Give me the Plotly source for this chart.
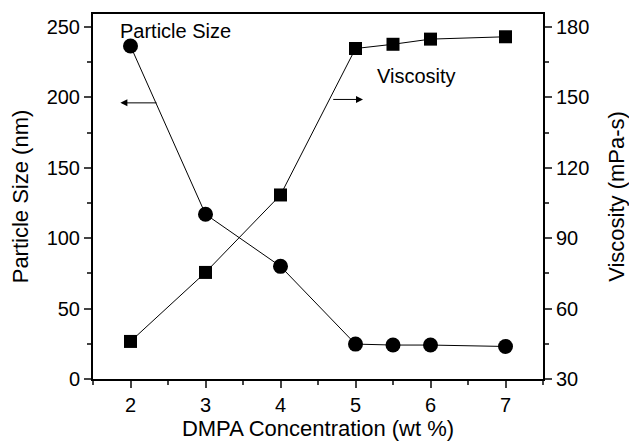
import plotly.graph_objects as go

conc = [2, 3, 4, 5, 5.5, 6, 7]
particle_size = [236.5, 117, 80, 24.8, 24.1, 24.1, 23.1]
viscosity = [46, 75.4, 108.4, 170.8, 172.6, 174.8, 175.8]

FONT = "Liberation Sans, Arial, sans-serif"

fig = go.Figure()
fig.add_trace(go.Scatter(x=conc, y=particle_size, mode="lines+markers",
                         line=dict(color="black", width=1),
                         marker=dict(symbol="circle", size=15, color="black"),
                         showlegend=False))
fig.add_trace(go.Scatter(x=conc, y=viscosity, mode="lines+markers", yaxis="y2",
                         line=dict(color="black", width=1),
                         marker=dict(symbol="square", size=13, color="black"),
                         showlegend=False))

fig.update_layout(
    template="none",
    width=629, height=444,
    margin=dict(l=93, r=86, t=14, b=65, autoexpand=False),
    paper_bgcolor="white", plot_bgcolor="white",
    font=dict(family=FONT, color="black", size=20),
    xaxis=dict(range=[1.5, 7.5], tick0=2, dtick=1, ticks="outside", ticklen=7, tickwidth=1.5,
               showline=True, linewidth=2, linecolor="black", mirror=True,
               showgrid=False, zeroline=False, automargin=False,
               minor=dict(ticks="outside", ticklen=4, dtick=0.5, tick0=2, showgrid=False, tickwidth=1.5),
               title=dict(text="DMPA Concentration (wt %)", font=dict(size=22), standoff=4)),
    yaxis=dict(range=[0, 259.2], tick0=0, dtick=50, ticks="outside", ticklen=7, tickwidth=1.5,
               showline=True, linewidth=2, linecolor="black",
               showgrid=False, zeroline=False, automargin=False,
               minor=dict(ticks="outside", ticklen=4, dtick=25, tick0=0, showgrid=False, tickwidth=1.5),
               title=dict(text="Particle Size (nm)", font=dict(size=22), standoff=12)),
    yaxis2=dict(range=[30, 185.5], tick0=30, dtick=30, ticks="outside", ticklen=7, tickwidth=1.5,
                overlaying="y", side="right",
                showline=True, linewidth=2, linecolor="black",
                showgrid=False, zeroline=False, automargin=False,
                minor=dict(ticks="outside", ticklen=4, dtick=15, tick0=30, showgrid=False, tickwidth=1.5),
                title=dict(text="Viscosity (mPa-s)", font=dict(size=22), standoff=20)),
)

fig.add_annotation(x=2.603, y=247, xref="x", yref="y", text="Particle Size",
                   showarrow=False, font=dict(size=20))
fig.add_annotation(x=5.812, y=159, xref="x", yref="y2", text="Viscosity",
                   showarrow=False, font=dict(size=20))
fig.add_annotation(x=1.865, y=196.1, xref="x", yref="y", ax=2.367, ay=196.1,
                   axref="x", ayref="y", text="", showarrow=True,
                   arrowhead=2, arrowsize=1.4, arrowwidth=1, arrowcolor="black")
fig.add_annotation(x=5.1, y=149.1, xref="x", yref="y2", ax=4.683, ay=149.1,
                   axref="x", ayref="y2", text="", showarrow=True,
                   arrowhead=2, arrowsize=1.4, arrowwidth=1, arrowcolor="black")

fig.write_html("out.html", config={"displayModeBar": False},
               post_script="document.body.style.margin='0';document.body.style.overflow='hidden';")
